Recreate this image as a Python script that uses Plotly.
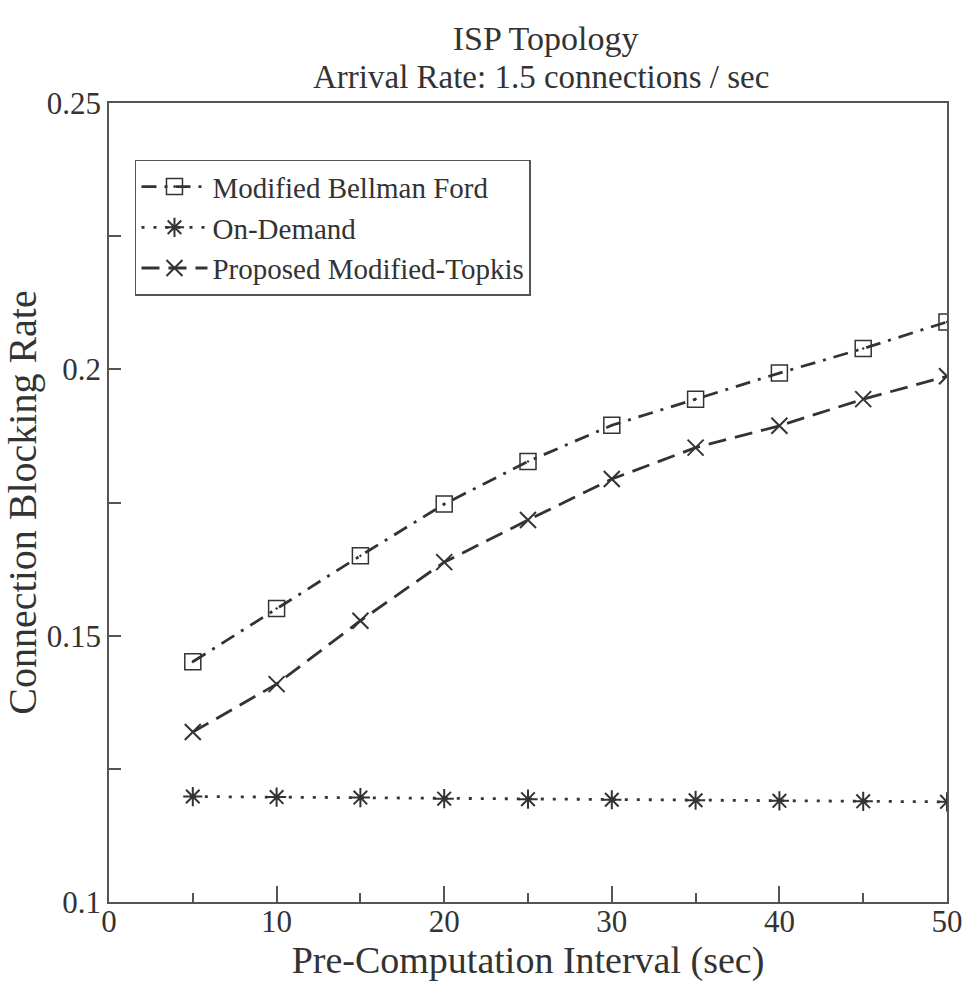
import plotly.graph_objects as go

# Pre-computation interval (sec)
intervals = [5, 10, 15, 20, 25, 30, 35, 40, 45, 50]

# Connection blocking rate for each routing scheme
bellman_ford = [0.1451, 0.1551, 0.1650, 0.1747, 0.1827, 0.1895, 0.1944, 0.1993, 0.2039, 0.2089]
on_demand = [0.1198, 0.1197, 0.1196, 0.1194, 0.1193, 0.1192, 0.1191, 0.1190, 0.1189, 0.1188]
topkis = [0.1319, 0.1409, 0.1528, 0.1638, 0.1717, 0.1794, 0.1853, 0.1894, 0.1944, 0.1987]

series_names = ["Modified Bellman Ford", "On-Demand", "Proposed Modified-Topkis"]

FONT = "Liberation Serif, Times New Roman, serif"
INK = "#333333"
AXIS = "#555555"

fig = go.Figure()

fig.add_trace(go.Scatter(
    x=intervals, y=bellman_ford, name=series_names[0], mode="lines+markers",
    line=dict(color=INK, width=2.8, dash="15px,8px,3px,8px"),
    marker=dict(symbol="square-open-dot", size=16, color=INK, line=dict(width=1.5, color=INK)),
))
fig.add_trace(go.Scatter(
    x=intervals, y=on_demand, name=series_names[1], mode="lines+markers",
    line=dict(color=INK, width=2.8, dash="3px,9px"),
    marker=dict(symbol="asterisk-open", size=16, color=INK, line=dict(width=2, color=INK)),
))
fig.add_trace(go.Scatter(
    x=intervals, y=topkis, name=series_names[2], mode="lines+markers",
    line=dict(color=INK, width=2.8, dash="18px,9px"),
    marker=dict(symbol="x-thin-open", size=16, color=INK, line=dict(width=2, color=INK)),
))

fig.update_layout(
    width=968, height=1006,
    margin=dict(l=109, r=21, t=103, b=104),
    paper_bgcolor="white", plot_bgcolor="white",
    font=dict(family=FONT, color=INK),
    showlegend=True,
    legend=dict(
        x=0.031, y=0.929, xanchor="left", yanchor="top",
        bgcolor="white", bordercolor=AXIS, borderwidth=1.5,
        font=dict(family=FONT, size=29, color=INK),
        itemwidth=66, tracegroupgap=0,
    ),
    title=dict(
        text="ISP Topology", x=0.521, xref="paper", xanchor="center",
        y=1 - 38 / 1006, yref="container", yanchor="middle",
        font=dict(family=FONT, size=34, color=INK),
    ),
    annotations=[dict(
        text="Arrival Rate: 1.5 connections / sec", xref="paper", yref="paper",
        x=0.516, y=1.0325, xanchor="center", yanchor="middle", showarrow=False,
        font=dict(family=FONT, size=33, color=INK),
    )],
)

fig.update_xaxes(
    range=[0, 50], dtick=10, tick0=0,
    showgrid=False, zeroline=False,
    showline=True, linecolor=AXIS, linewidth=1.5, mirror=True,
    ticks="inside", ticklen=16, tickwidth=1.5, tickcolor=AXIS,
    minor=dict(dtick=5, ticks="inside", ticklen=9, tickwidth=1.5, tickcolor=AXIS, showgrid=False),
    tickfont=dict(family=FONT, size=31, color=INK),
    ticklabelstandoff=-9,
    title=dict(text="Pre-Computation Interval (sec)", font=dict(family=FONT, size=38, color=INK), standoff=8),
    automargin=False,
)
fig.update_yaxes(
    range=[0.1, 0.25], dtick=0.05, tick0=0.1,
    showgrid=False, zeroline=False,
    showline=True, linecolor=AXIS, linewidth=1.5, mirror=True,
    ticks="inside", ticklen=12, tickwidth=1.5, tickcolor=AXIS,
    minor=dict(dtick=0.025, ticks="inside", ticklen=12, tickwidth=1.5, tickcolor=AXIS, showgrid=False),
    tickfont=dict(family=FONT, size=31, color=INK),
    title=dict(text="Connection Blocking Rate", font=dict(family=FONT, size=40, color=INK), standoff=2),
    automargin=False,
)

fig.write_html("out.html")
